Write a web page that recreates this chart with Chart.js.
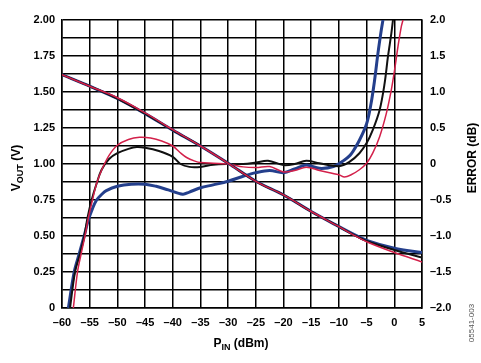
<!DOCTYPE html>
<html>
<head>
<meta charset="utf-8">
<script src="https://cdn.jsdelivr.net/npm/chart.js@4/dist/chart.umd.min.js"></script>
<style>
  html, body { margin: 0; padding: 0; background: #fff; }
  #wrap { width: 481px; height: 363px; }
</style>
</head>
<body>
<div id="wrap"><canvas id="chart" width="481" height="363"></canvas></div>
<script>
// ---- data ----
const voutPin = [-60, -55, -50, -45, -40, -35, -30, -25, -20, -15, -10, -7.5, -5, 0, 5];
const voutBlue = [1.62, 1.54, 1.455, 1.35, 1.235, 1.125, 1.005, 0.88, 0.785, 0.67, 0.565, 0.515, 0.47, 0.415, 0.385];
const voutBlack = [1.62, 1.54, 1.455, 1.35, 1.235, 1.125, 1.005, 0.88, 0.785, 0.67, 0.565, 0.512, 0.465, 0.403, 0.35];
const voutRed = [1.62, 1.54, 1.46, 1.355, 1.238, 1.125, 1.005, 0.88, 0.785, 0.67, 0.565, 0.51, 0.46, 0.385, 0.32];

const errBlackPin = [-58.55, -57.65, -56.75, -55.97, -55.4, -54.65, -53.75, -52.85, -51.5, -50, -48, -46.5, -45, -42.5, -40, -38.6, -37, -35, -32.7, -30, -27.3, -25, -22.8, -20, -18, -15.9, -13.5, -10, -8.1, -6.3, -5, -3.9, -2.65, -1.75, -1.15, -0.54, -0.24];
const errBlack = [-2.0, -1.5, -1.25, -1.0, -0.75, -0.5, -0.27, -0.08, 0.07, 0.15, 0.21, 0.235, 0.225, 0.18, 0.10, 0.0, -0.04, -0.04, -0.01, 0, 0, 0.02, 0.045, -0.015, 0.0, 0.045, 0.01, -0.03, 0.03, 0.15, 0.29, 0.47, 0.75, 1.12, 1.49, 1.81, 2.0];

const errRedPin = [-57.95, -57.2, -56.55, -55.85, -55.25, -54.5, -53.75, -52.7, -51.5, -50, -48, -46, -44, -42, -40, -38.7, -37.5, -36, -35, -32.7, -30, -27.3, -25, -22.5, -20, -18, -15.9, -13.5, -10, -9, -7.8, -6.3, -5, -3.9, -2.65, -1.45, -0.54, 0.06, 0.66, 1.27, 1.57];
const errRed = [-2.0, -1.5, -1.25, -1.0, -0.75, -0.5, -0.27, -0.06, 0.12, 0.26, 0.34, 0.37, 0.36, 0.32, 0.25, 0.16, 0.09, 0.04, 0.02, 0.01, 0, -0.04, -0.05, -0.035, -0.11, -0.09, -0.045, -0.09, -0.15, -0.18, -0.15, -0.08, 0.01, 0.15, 0.38, 0.70, 1.03, 1.31, 1.63, 1.91, 2.0];

const errBluePin = [-58.85, -57.8, -56.9, -56.0, -55.25, -54.5, -53.75, -52.8, -52, -50, -47.5, -45, -43, -40.8, -38.2, -37, -35, -32.7, -30, -27.3, -25, -22.5, -20, -18, -15.9, -13.5, -11, -9, -8, -7.5, -6.3, -5, -4.2, -3.55, -2.95, -2.35, -2.05];
const errBlue = [-2.0, -1.5, -1.25, -1.0, -0.78, -0.62, -0.5, -0.42, -0.37, -0.31, -0.28, -0.28, -0.31, -0.36, -0.42, -0.39, -0.33, -0.29, -0.24, -0.17, -0.12, -0.09, -0.12, -0.07, -0.015, -0.06, -0.035, 0.055, 0.12, 0.17, 0.33, 0.56, 0.84, 1.17, 1.54, 1.86, 2.0];

const BLUE = "#243f8c";
const RED = "#d3204a";
const BLACK = "#111111";

function pts(xs, ys) {
    return xs.map((x, i) => ({ x: x, y: ys[i] }));
}

function dash(s) {
    return s.replace("-", "\u2013");
}

// titles with subscripts, drawn by hand
function drawSub(ctx, main, sub, tail, cx, cy, angle) {
    const big = "bold 12px 'Liberation Sans', Arial, sans-serif";
    const small = "bold 9px 'Liberation Sans', Arial, sans-serif";
    ctx.font = big;
    const w1 = ctx.measureText(main).width;
    const w3 = ctx.measureText(tail).width;
    ctx.font = small;
    const w2 = ctx.measureText(sub).width;
    const total = w1 + w2 + w3;
    ctx.save();
    ctx.translate(cx, cy);
    ctx.rotate(angle);
    ctx.fillStyle = "#000";
    ctx.textBaseline = "alphabetic";
    ctx.textAlign = "left";
    let x = -total / 2;
    ctx.font = big;
    ctx.fillText(main, x, 4);
    x += w1;
    ctx.font = small;
    ctx.fillText(sub, x, 7);
    x += w2;
    ctx.font = big;
    ctx.fillText(tail, x, 4);
    ctx.restore();
}

const titlePlugin = {
    id: "titles",
    afterDraw(chart) {
        const ctx = chart.ctx;
        drawSub(ctx, "P", "IN", " (dBm)", 241, 343, 0);
        drawSub(ctx, "V", "OUT", " (V)", 16, 168, -Math.PI / 2);
        drawSub(ctx, "ERROR (dB)", "", "", 472, 158, -Math.PI / 2);
        ctx.save();
        ctx.translate(472, 323);
        ctx.rotate(-Math.PI / 2);
        ctx.font = "8px 'Liberation Sans', Arial, sans-serif";
        ctx.fillStyle = "#555";
        ctx.textAlign = "center";
        ctx.textBaseline = "middle";
        ctx.fillText("05541-003", 0, 0);
        ctx.restore();
    }
};

const tickFont = { family: "'Liberation Sans', Arial, sans-serif", size: 11, weight: "bold" };
const gridLine = { color: "#000", lineWidth: 1.5, drawTicks: false };

function line(label, data, color, width, axis) {
    return {
        label: label,
        data: data,
        yAxisID: axis,
        borderColor: color,
        backgroundColor: color,
        borderWidth: width,
        pointRadius: 0,
        fill: false,
        tension: 0.35
    };
}

new Chart(document.getElementById("chart"), {
    type: "line",
    data: {
        datasets: [
            line("Vout red", pts(voutPin, voutRed), RED, 1.5, "y"),
            line("Vout black", pts(voutPin, voutBlack), BLACK, 2, "y"),
            line("Vout blue", pts(voutPin, voutBlue), BLUE, 3, "y"),
            line("Error red", pts(errRedPin, errRed), RED, 1.5, "y1"),
            line("Error black", pts(errBlackPin, errBlack), BLACK, 2, "y1"),
            line("Error blue", pts(errBluePin, errBlue), BLUE, 3, "y1")
        ]
    },
    options: {
        responsive: false,
        animation: false,
        devicePixelRatio: 1,
        layout: { padding: { top: 20, left: 0, right: 0, bottom: 0 } },
        plugins: {
            legend: { display: false },
            tooltip: { enabled: false }
        },
        scales: {
            x: {
                type: "linear",
                min: -60,
                max: 5,
                grid: gridLine,
                border: { color: "#000", width: 1.5 },
                ticks: {
                    stepSize: 5,
                    font: tickFont,
                    color: "#000",
                    padding: 8,
                    autoSkip: false,
                    maxRotation: 0,
                    callback: v => dash(String(v))
                },
                afterFit: s => { s.height = 55; }
            },
            y: {
                position: "left",
                min: 0,
                max: 2,
                grid: gridLine,
                border: { color: "#000", width: 1.5 },
                ticks: {
                    stepSize: 0.125,
                    font: tickFont,
                    color: "#000",
                    padding: 7,
                    autoSkip: false,
                    callback: v => {
                        if (Math.abs(v * 4 - Math.round(v * 4)) > 1e-6) return "";
                        return v === 0 ? "0" : v.toFixed(2);
                    }
                },
                afterFit: s => { s.width = 62; }
            },
            y1: {
                position: "right",
                min: -2,
                max: 2,
                grid: { display: false, drawTicks: false },
                border: { color: "#000", width: 1.5 },
                ticks: {
                    stepSize: 0.5,
                    font: tickFont,
                    color: "#000",
                    padding: 8,
                    autoSkip: false,
                    callback: v => (Math.abs(v) < 1e-9 ? "0" : dash(v.toFixed(1)))
                },
                afterFit: s => { s.width = 59; }
            }
        }
    },
    plugins: [titlePlugin]
});
</script>
</body>
</html>
